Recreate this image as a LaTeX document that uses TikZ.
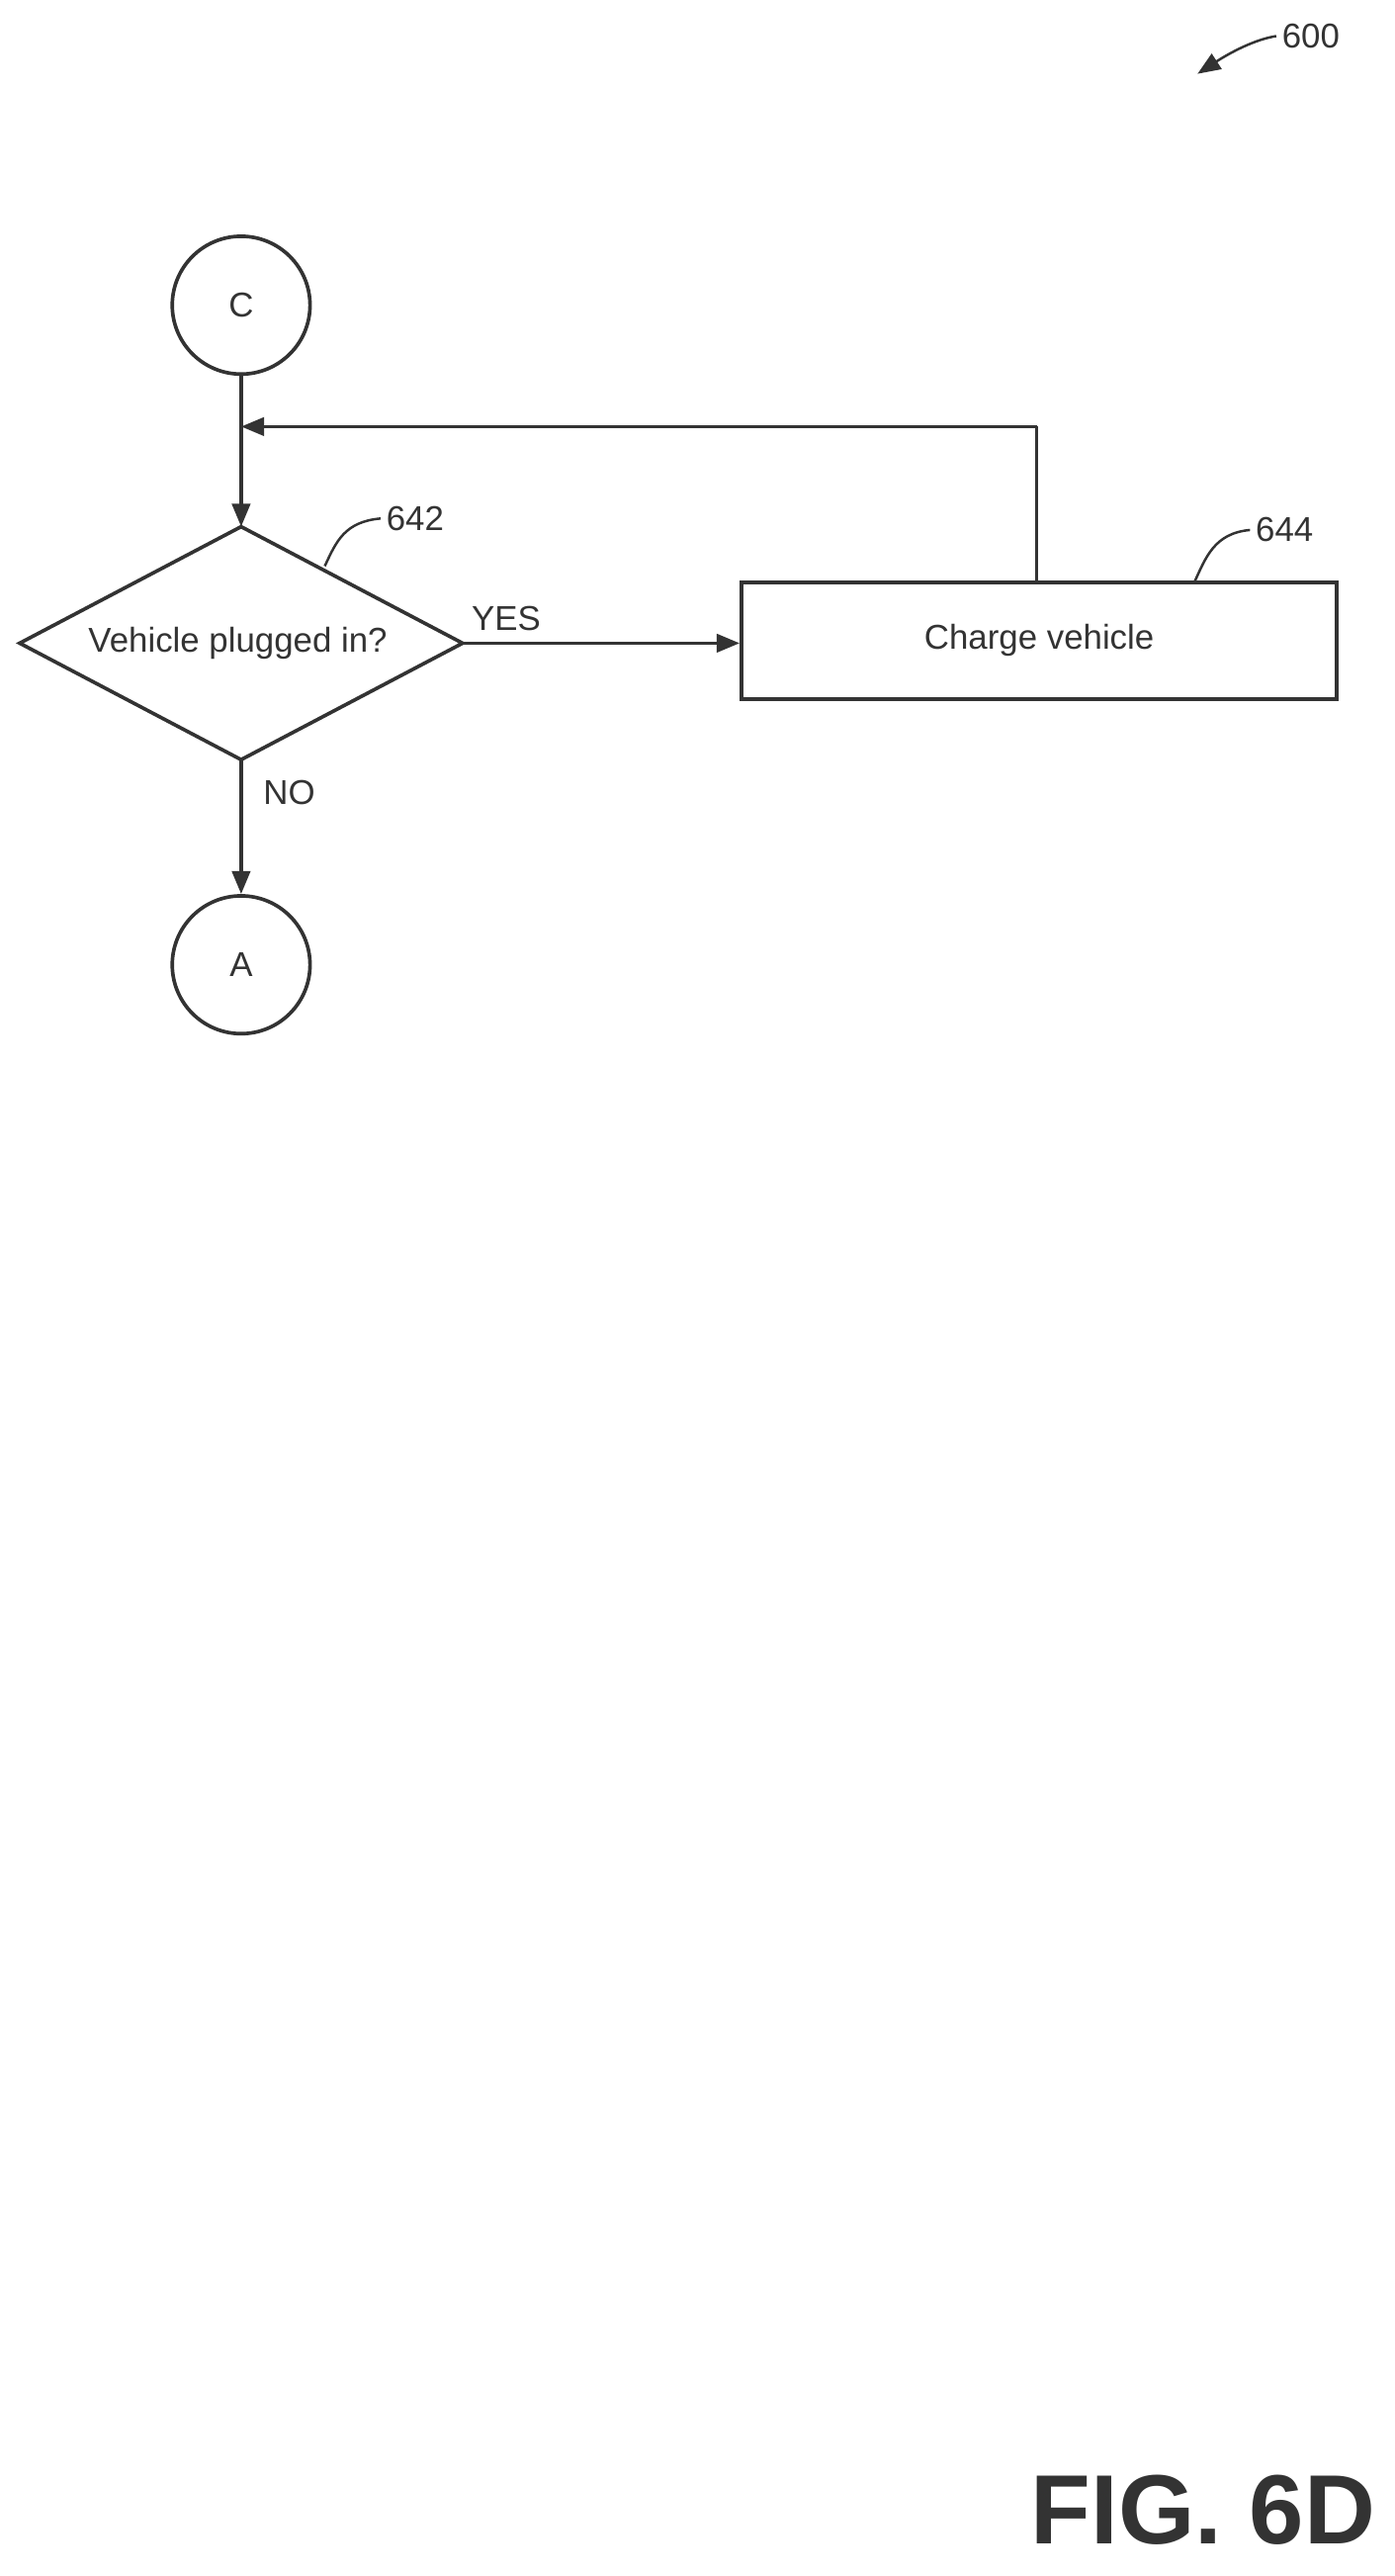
\documentclass[tikz,border=0pt]{standalone}
\usepackage{fontspec}
\setmainfont{Liberation Sans}
\usetikzlibrary{arrows.meta,shapes.geometric}
\begin{document}
\begin{tikzpicture}[x=1pt,y=-1pt,
  line/.style={draw=black!80,line width=2.2pt},
  arr/.style={line,-{Triangle[length=14pt,width=11pt]}},
  txt/.style={font=\fontsize{21}{25}\selectfont,text=black!80},
  conn/.style={circle,line,minimum size=84pt,inner sep=0pt,txt}]
\useasboundingbox (0,0) rectangle (850,1570);
\node[conn] (C) at (147,186) {C};
\draw[line] (12,392) -- (147,321) -- (282,392) -- (147,463) -- cycle;
\coordinate (dt) at (147,321); \coordinate (dr) at (282,392); \coordinate (db) at (147,463);
\node[txt] (q) at (145,392) {Vehicle plugged in?};
\node[line,txt,minimum width=363pt,minimum height=71pt] (B) at (633.5,390.5) {Charge vehicle};
\node[conn] (A) at (147,588) {A};
\coordinate (j) at (147,260); \coordinate (bt) at (632,260);
\draw[arr] (C) -- (dt);
\draw[arr] (dr) -- (dr -| B.west);
\draw[arr] (db) -- (A);
\draw[line] (B.north -| bt) -- (bt);
\draw[arr] (bt) -- (j);
\node[txt,anchor=south west] (yes) at (284,388) {YES};
\node[txt,anchor=west] (no) at (157,483) {NO};
\node[txt,anchor=west] (n642) at (232,316) {642};
\draw[line,line width=1.5pt] (n642.west) .. controls (210,318) and (205,330) .. (198,345);
\node[txt,anchor=west] (n644) at (762,323) {644};
\draw[line,line width=1.5pt] (n644.west) .. controls (740,325) and (735,340) .. (728,355);
\node[txt,anchor=west] (n600) at (778,22) {600};
\coordinate (a6) at (730,45);
\draw[arr,line width=1.5pt] (n600.west) .. controls (765,24) and (750,32) .. (a6);
\node[font=\bfseries\fontsize{60}{70}\selectfont,text=black!80,anchor=east] (fig) at (842,1530) {FIG. 6D};
\end{tikzpicture}
\end{document}
